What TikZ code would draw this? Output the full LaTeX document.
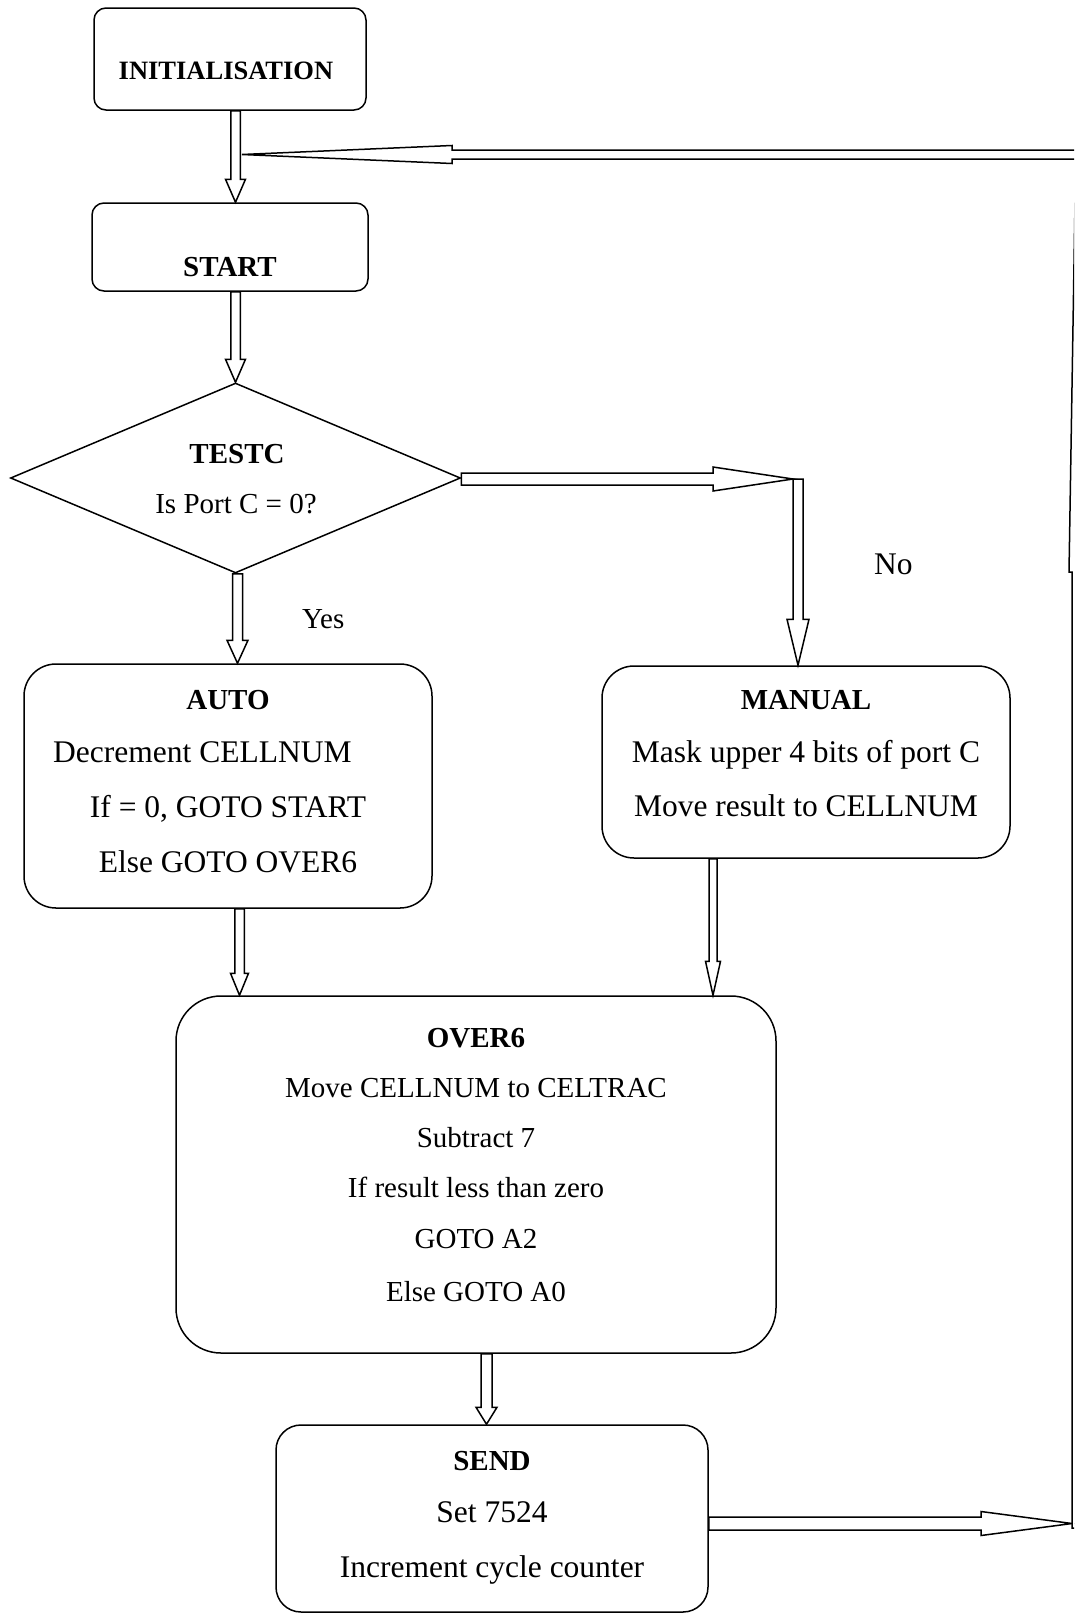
\documentclass[tikz,border=0pt]{standalone}
\usepackage{fontspec}
\setmainfont{Liberation Serif}
\usetikzlibrary{shapes.geometric,calc}

\tikzset{
  box/.style={draw, line width=1.5pt, fill=white, inner sep=0pt, rectangle},
  blk/.style={draw, line width=1.5pt, fill=white, line join=miter},
  head/.style={anchor=base, inner sep=0pt, font=\fontsize{29}{34}\selectfont\bfseries},
  body/.style={anchor=base, inner sep=0pt, font=\fontsize{31.5}{36}\selectfont},
  small/.style={anchor=base, inner sep=0pt, font=\fontsize{29}{34}\selectfont},
}

% vertical block arrow: #1 tail point, #2 tip, #3 shaft half width,
% #4 head half width, #5 head length (positive = pointing down)
\newcommand\vblock[5]{%
  \draw[blk] let \p1=(#1), \p2=(#2) in
    ({\x2-#3pt},{\y1}) -- ({\x2-#3pt},{\y2+(#5pt)}) -- ({\x2-#4pt},{\y2+(#5pt)}) -- (\x2,\y2)
    -- ({\x2+#4pt},{\y2+(#5pt)}) -- ({\x2+#3pt},{\y2+(#5pt)}) -- ({\x2+#3pt},{\y1}) -- cycle;}
% horizontal block arrow: #5 head length (positive = pointing right)
\newcommand\hblock[5]{%
  \draw[blk] let \p1=(#1), \p2=(#2) in
    ({\x1},{\y2+#3pt}) -- ({\x2-(#5pt)},{\y2+#3pt}) -- ({\x2-(#5pt)},{\y2+#4pt}) -- (\x2,\y2)
    -- ({\x2-(#5pt)},{\y2-#4pt}) -- ({\x2-(#5pt)},{\y2-#3pt}) -- ({\x1},{\y2-#3pt}) -- cycle;}

\begin{document}
\begin{tikzpicture}[x=1pt,y=-1pt]
\useasboundingbox (0,0) rectangle (1074,1614);
\clip (0,0) rectangle (1074,1614);
\fill[white] (0,0) rectangle (1074,1614);

% boxes
\node[box, minimum width=272, minimum height=102, rounded corners=12] (init) at (230,59) {};
\node[box, minimum width=276, minimum height=88, rounded corners=12] (start) at (230,247) {};
\node[draw, line width=1.5pt, fill=white, diamond, inner sep=0pt,
      minimum width=450, minimum height=190] (testc) at (235.5,478) {};
\node[box, minimum width=408, minimum height=244, rounded corners=32] (autob) at (228,786) {};
\node[box, minimum width=408, minimum height=192, rounded corners=32] (manual) at (806,762) {};
\node[box, minimum width=600, minimum height=357, rounded corners=45] (over) at (476,1174.5) {};
\node[box, minimum width=432, minimum height=187, rounded corners=25] (send) at (492,1518.5) {};

% connector anchor points
\coordinate (a1) at ([xshift=5.5]init.south);
\coordinate (a1t) at ([xshift=5.5]start.north);
\coordinate (a2) at ([xshift=5.5]start.south);
\coordinate (a3t) at ([xshift=9.5]autob.north);
\coordinate (a4) at ([xshift=11.5]autob.south);
\coordinate (a4t) at (a4 |- over.north);
\coordinate (a5) at ([xshift=-93]manual.south);
\coordinate (a5t) at (a5 |- over.north);
\coordinate (a6) at ([xshift=10.5]over.south);
\coordinate (a6t) at (a6 |- send.north);
\coordinate (bend) at (793,479);
\coordinate (a7t) at ([xshift=-8]manual.north);
\coordinate (edge) at (1072,1523.5);
\coordinate (upbot) at (1076,1528);
\coordinate (uptop) at (1076,140);
\coordinate (retfrom) at (1090,154.5);
\coordinate (rettip) at (242,154.5);

% connectors
\vblock{a1}{a1t}{4.75}{10}{23}
\vblock{a2}{testc.north}{4.75}{10}{23}
\vblock{testc.south}{a3t}{5}{10.5}{23}
\vblock{a4}{a4t}{4.75}{9}{22}
\vblock{a5}{a5t}{4}{7.5}{34}
\vblock{a6}{a6t}{5.5}{10.5}{17}
\hblock{testc.east}{bend}{6}{12}{80}
\vblock{bend}{a7t}{5}{11}{46}
\hblock{send.east}{edge}{6.5}{12}{91}
\vblock{upbot}{uptop}{4}{7}{-432}
\hblock{retfrom}{rettip}{4.5}{9}{-210}

% texts
\node[head, font=\fontsize{26.5}{31}\selectfont\bfseries] (tinit) at (226,79) {INITIALISATION};
\node[head] (tstart) at (230,276) {START};
\node[head] (ttestc) at (237,463) {TESTC};
\node[small] (tq) at (236,513) {Is Port C = 0?};
\node[small, anchor=base west] (tyes) at (302,628) {Yes};
\node[body, anchor=base west] (tno) at (874,574) {No};

\node[head] (tauto) at (228,709) {AUTO};
\node[body, anchor=base west] (ta1) at (53,762) {Decrement CELLNUM};
\node[body] (ta2) at (228,817) {If = 0, GOTO START};
\node[body] (ta3) at (228,872) {Else GOTO OVER6};

\node[head] (tman) at (806,709) {MANUAL};
\node[body] (tm1) at (806,762) {Mask upper 4 bits of port C};
\node[body] (tm2) at (806,816) {Move result to CELLNUM};

\node[head] (tover) at (476,1047) {OVER6};
\node[small] (to1) at (476,1097) {Move CELLNUM to CELTRAC};
\node[small] (to2) at (476,1147) {Subtract 7};
\node[small] (to3) at (476,1197) {If result less than zero};
\node[small] (to4) at (476,1248) {GOTO A2};
\node[small] (to5) at (476,1301) {Else GOTO A0};

\node[head] (tsend) at (492,1470) {SEND};
\node[body] (ts1) at (492,1522) {Set 7524};
\node[body] (ts2) at (492,1577) {Increment cycle counter};
\end{tikzpicture}
\end{document}
